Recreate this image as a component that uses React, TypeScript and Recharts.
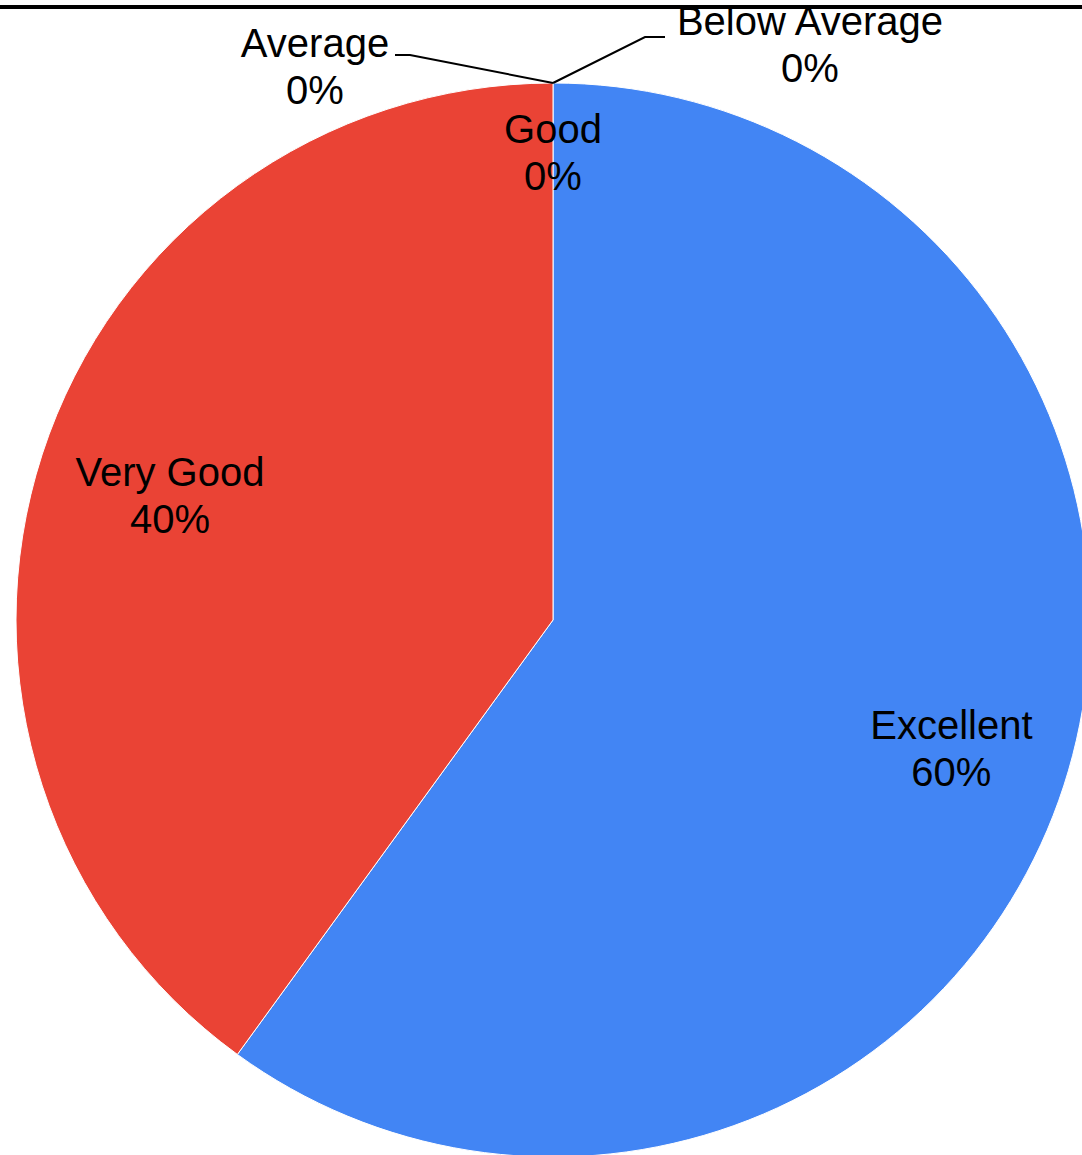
import { PieChart, Pie, Cell } from 'recharts';

const categories = ['Excellent', 'Very Good', 'Good', 'Average', 'Below Average'];
const shares = [60, 40, 0, 0, 0];
const colors = ['#4285F4', '#EA4335', '#FBBC04', '#34A853', '#FF6D01'];

const data = categories.map((name, i) => ({ name, value: shares[i] }));

const RAD = Math.PI / 180;
const FONT = '"Liberation Sans", Arial, sans-serif';

function SliceLabel(props: any) {
  const { cx, cy, midAngle, outerRadius, name, percent } = props;
  const pct = `${Math.round((percent || 0) * 100)}%`;
  const cos = Math.cos(-midAngle * RAD);
  const sin = Math.sin(-midAngle * RAD);

  const textProps = { fontFamily: FONT, fontSize: 40, fill: '#000', textAnchor: 'middle' as const };

  if (name === 'Average' || name === 'Below Average') {
    const sx = cx + outerRadius * cos;
    const sy = cy + outerRadius * sin;
    const left = name === 'Average';
    const ex = left ? sx - 143 : sx + 92;
    const ey = left ? sy - 28 : sy - 46;
    const tx = left ? ex - 15 : ex + 20;
    const center = left ? sx - 238 : sx + 257;
    const base = left ? sy - 26 : sy - 48;
    return (
      <g>
        <polyline
          points={`${sx},${sy} ${ex},${ey} ${tx},${ey}`}
          fill="none"
          stroke="#000"
          strokeWidth={2}
        />
        <text x={center} y={base} {...textProps}>{name}</text>
        <text x={center} y={base + 47} {...textProps}>{pct}</text>
      </g>
    );
  }

  const factor = name === 'Good' ? 0.87 : name === 'Excellent' ? 0.78 : 0.75;
  const x = cx + outerRadius * factor * cos;
  const y = cy + outerRadius * factor * sin;
  return (
    <g>
      <text x={x} y={y - 10} {...textProps}>{name}</text>
      <text x={x} y={y + 37} {...textProps}>{pct}</text>
    </g>
  );
}

export default function App() {
  return (
    <div style={{ position: 'absolute', left: 0, top: 0, width: 1082, height: 1155, background: '#fff', overflow: 'hidden' }}>
      <div style={{ position: 'absolute', left: 0, top: 5, width: 1082, height: 4, background: '#000' }} />
      <PieChart width={1082} height={1155} margin={{ top: 0, right: 0, bottom: 0, left: 0 }}>
        <Pie
          data={data}
          dataKey="value"
          nameKey="name"
          cx={553}
          cy={620}
          outerRadius={537}
          startAngle={90}
          endAngle={-270}
          stroke="#ffffff"
          strokeWidth={1}
          label={SliceLabel}
          labelLine={false}
          isAnimationActive={false}
        >
          {data.map((d, i) => (
            <Cell key={d.name} fill={colors[i]} />
          ))}
        </Pie>
      </PieChart>
    </div>
  );
}
